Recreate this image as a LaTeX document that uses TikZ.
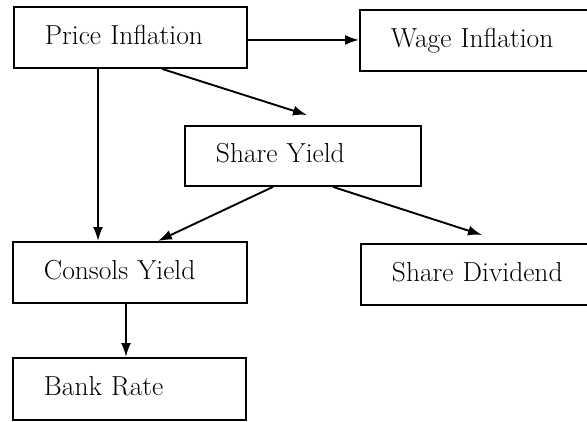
\documentclass[tikz,border=0pt]{standalone}
\usetikzlibrary{arrows.meta}
\begin{document}
\begin{tikzpicture}[x=1pt,y=-1pt,
  box/.style={draw, line width=1.9pt, rectangle, anchor=north west,
    inner xsep=31pt, inner ysep=0pt, text height=19pt, text depth=5pt,
    minimum height=61pt, align=left, font=\fontsize{27.5}{32}\selectfont},
  arr/.style={line width=1.9pt, -{Latex[length=14pt,width=10pt]}}]
\useasboundingbox (0,0) rectangle (587,421);
\clip (0,0) rectangle (587,421);
\node[box, text width=171pt] (pi) at (13,6) {Price Inflation};
\node[box, text width=198pt] (wi) at (359,9) {Wage Inflation};
\node[box, text width=174pt, minimum height=60pt] (sy) at (184,125) {Share Yield};
\node[box, text width=172pt] (ci) at (12,241) {Consols Yield};
\node[box, text width=198pt] (sd) at (360,243) {Share Dividend};
\node[box, text width=171pt, minimum height=62pt] (br) at (12,357) {Bank Rate};
\coordinate (t3) at (307,115);
\coordinate (t5) at (482,235);
\draw[arr] ([yshift=-2.5pt]pi.east) -- ([yshift=0.5pt]wi.west);
\draw[arr] ([xshift=85pt]pi.south west) -- ([xshift=86pt]ci.north west);
\draw[arr] ([xshift=149pt]pi.south west) -- (t3);
\draw[arr] ([xshift=89pt]sy.south west) -- ([xshift=146pt]ci.north west);
\draw[arr] ([xshift=149pt]sy.south west) -- (t5);
\draw[arr] ([xshift=114pt]ci.south west) -- ([xshift=114pt]br.north west);
\end{tikzpicture}
\end{document}
